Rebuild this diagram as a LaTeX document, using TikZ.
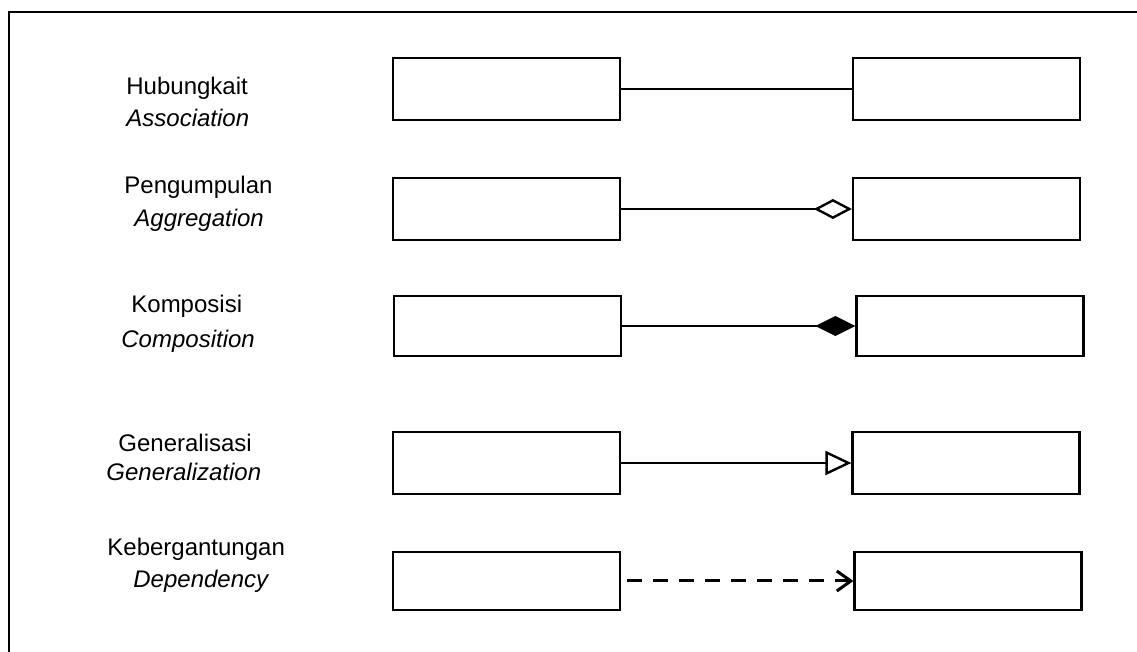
\documentclass[tikz,border=0pt]{standalone}
\usepackage{fontspec}
\setmainfont{Liberation Sans}
\usetikzlibrary{arrows.meta}
\usetikzlibrary{positioning}
\tikzset{
    every node/.style={ % Text size of all labels
        font=\fontsize{12}{14}\selectfont
    },
    cls/.style={ % Empty class box
        draw,
        line width=1.1pt,
        minimum width=113.5pt,
        minimum height=31pt,
        inner sep=0pt
    },
    lbl/.style={ % Name of a relation
        anchor=west,
        inner sep=0pt
    },
    rel/.style={ % Line between two classes
        draw,
        line width=1pt
    }
}

\begin{document}
\begin{tikzpicture}[x=0.5pt, y=-0.5pt]
            \useasboundingbox (0,0) rectangle (1137,652);
            \draw[line width=1.3pt] (9,660) -- (9,12) -- (1145,12);

            % labels
            \node[lbl] (k1) at (126,88) {Hubungkait};
            \node[lbl] (e1) at (126,118) {\itshape Association};
            \node[lbl] (k2) at (124,187) {Pengumpulan};
            \node[lbl] (e2) at (134,220) {\itshape Aggregation};
            \node[lbl] (k3) at (131,306) {Komposisi};
            \node[lbl] (e3) at (121,341) {\itshape Composition};
            \node[lbl] (k4) at (118,443) {Generalisasi};
            \node[lbl] (e4) at (106,472) {\itshape Generalization};
            \node[lbl] (k5) at (107,549) {Kebergantungan};
            \node[lbl] (e5) at (133,581) {\itshape Dependency};

            % classes
            \node[cls] (a1) at (506.5,89) {};
            \node[cls] (b1) at (966.5,89) {};
            \node[cls] (a2) at (506.5,209) {};
            \node[cls] (b2) at (966.5,209) {};
            \node[cls, minimum height=30pt] (a3) at (507.5,326) {};
            \node[cls, minimum height=30pt] (b3) at (970,326) {};
            \node[cls] (a4) at (506.5,463) {};
            \node[cls] (b4) at (966,463) {};
            \node[cls, minimum height=29pt] (a5) at (506.5,581) {};
            \node[cls, minimum height=29pt] (b5) at (968,581) {};

            % relations
            \draw[rel] (a1) -- (b1);
            \draw[rel, -{Diamond[open, length=19pt, width=10pt, line width=1.2pt]}] (a2) -- (b2);
            \draw[rel, -{Diamond[length=20pt, width=10pt]}] (a3) -- (b3);
            \draw[rel, -{Triangle[open, length=13pt, width=12pt, line width=1.2pt]}] (a4) -- (b4);
            \draw[rel, line width=1.5pt, dash pattern=on 7.5pt off 5.5pt, dash phase=-3pt,
                  -{Straight Barb[length=7pt, width=10pt]}] (a5) -- (b5);
        \end{tikzpicture}
\end{document}
